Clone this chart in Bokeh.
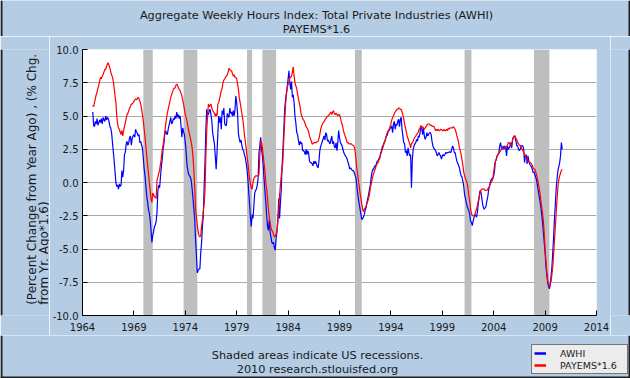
import numpy as np
from bokeh.plotting import figure
from bokeh.layouts import column, row
from bokeh.models import (FixedTicker, PrintfTickFormatter, BoxAnnotation, Label,
                          Legend, LegendItem, Range1d, Span)
from bokeh.embed import file_html
from bokeh.resources import INLINE

# ---------------- data (monthly, Jan 1965 .. Sep 2010) ----------------
START_YEAR = 1965

awhi = [
    5.3, 4.3, 4.2, 4.6, 4.4, 4.8, 4.3, 4.5, 4.7, 4.5, 4.8, 4.4,          # 1965
    4.9, 4.7, 4.6, 5.0, 4.7, 4.9, 4.8, 4.6, 4.2, 4.1, 3.7, 3.0,          # 1966
    2.3, 1.6, 0.8, 0.0, -0.3, -0.2, -0.5, -0.1, -0.3, -0.2, 0.9, 0.4,    # 1967
    0.9, 2.1, 2.3, 2.9, 3.1, 2.8, 3.0, 3.4, 3.5, 2.8, 3.3, 3.5,          # 1968
    3.6, 3.4, 4.0, 3.8, 3.7, 3.5, 3.6, 3.0, 3.1, 2.8, 2.6, 1.8,          # 1969
    1.0, 0.5, -0.3, -1.0, -1.5, -2.0, -2.3, -2.8, -3.6, -4.5, -4.0, -3.7,  # 1970
    -3.3, -3.2, -2.9, -2.2, -0.6, -0.2, -0.4, 0.4, 1.2, 1.7, 2.5, 2.9,   # 1971
    3.6, 3.9, 3.7, 3.6, 4.0, 4.3, 4.6, 4.9, 4.4, 4.5, 4.8, 4.7,          # 1972
    5.0, 4.8, 5.3, 4.9, 5.1, 4.8, 5.0, 4.3, 3.4, 4.1, 3.8, 3.6,          # 1973
    3.0, 2.3, 1.3, 0.9, 0.6, 0.5, 0.4, 0.1, -0.5, -1.2, -2.0, -2.8,      # 1974
    -4.3, -5.5, -6.8, -6.6, -6.5, -6.5, -5.3, -4.5, -3.3, -2.5, -0.3, 1.5,  # 1975
    4.0, 5.5, 5.2, 5.1, 5.4, 5.5, 5.1, 4.6, 3.7, 3.3, 2.9, 2.0,          # 1976
    1.0, 2.2, 3.7, 5.0, 4.5, 4.9, 4.0, 5.4, 5.1, 5.6, 4.4, 4.3,          # 1977
    4.3, 5.2, 5.0, 4.9, 5.6, 5.2, 5.3, 5.0, 5.4, 5.0, 5.5, 6.5,          # 1978
    6.0, 5.2, 3.7, 3.3, 3.0, 3.2, 2.8, 2.5, 2.4, 2.1, 1.9, 1.5,          # 1979
    1.0, 0.3, -0.7, -1.6, -2.6, -3.3, -2.4, -2.7, -1.8, -0.8, -0.6, -0.5,  # 1980
    -0.2, 0.3, 2.2, 2.8, 3.4, 2.5, 2.0, 1.2, 0.2, -0.7, -1.5, -2.5,      # 1981
    -3.3, -3.6, -2.8, -3.7, -4.1, -4.5, -4.6, -4.5, -4.9, -5.1, -4.2, -3.7,  # 1982
    -3.0, -1.2, -2.7, -1.6, -0.5, 1.3, 2.5, 4.0, 5.5, 6.2, 6.7, 7.2,     # 1983
    7.8, 8.4, 7.5, 7.0, 7.6, 6.4, 6.6, 6.0, 5.0, 4.5, 3.8, 3.6,          # 1984
    3.2, 2.8, 3.1, 2.9, 3.0, 2.4, 2.4, 2.3, 2.1, 2.5, 2.1, 2.4,          # 1985
    2.2, 1.6, 1.5, 1.5, 1.4, 1.25, 1.6, 1.4, 1.6, 1.4, 1.2, 1.1,         # 1986
    1.6, 2.4, 2.7, 2.9, 3.1, 3.3, 3.5, 3.2, 3.75, 3.6, 3.1, 3.2,         # 1987
    3.0, 2.9, 3.2, 3.5, 2.9, 3.1, 2.7, 2.6, 3.0, 2.4, 3.0, 3.9,          # 1988
    3.4, 3.0, 2.9, 2.75, 2.5, 2.25, 2.1, 2.0, 1.9, 1.75, 1.5, 1.3,       # 1989
    1.0, 1.1, 1.0, 0.9, 0.9, 0.8, 0.6, 0.4, -0.1, -0.7, -1.2, -1.6,      # 1990
    -2.0, -2.4, -2.8, -2.7, -2.6, -2.4, -2.1, -1.9, -1.5, -1.2, -0.9, -0.5,  # 1991
    -0.2, 0.4, 0.8, 1.0, 1.0, 1.25, 1.2, 1.4, 1.6, 1.6, 1.8, 1.9,        # 1992
    2.2, 2.4, 2.7, 2.8, 3.0, 3.1, 3.4, 3.5, 3.6, 3.9, 3.9, 4.1,          # 1993
    4.1, 4.25, 3.75, 4.4, 4.6, 4.0, 4.4, 4.3, 4.6, 4.75, 4.2, 4.75,      # 1994
    4.9, 4.0, 3.5, 3.0, 2.9, 2.25, 2.4, 2.0, 2.6, 2.25, 2.0, 2.1,        # 1995
    -0.4, 1.7, 2.5, 2.75, 2.9, 3.0, 3.25, 3.1, 3.5, 3.4, 3.75, 4.2,      # 1996
    4.1, 3.6, 4.1, 3.5, 3.25, 3.4, 3.75, 3.5, 3.6, 3.75, 3.75, 3.6,      # 1997
    3.1, 2.75, 2.6, 2.5, 2.4, 2.25, 2.0, 2.1, 2.25, 2.1, 2.0, 1.75,      # 1998
    2.0, 2.1, 2.0, 2.1, 2.25, 2.2, 2.25, 2.25, 2.3, 2.3, 2.25, 2.5,      # 1999
    2.75, 2.6, 2.25, 2.25, 1.9, 1.6, 1.45, 1.3, 1.1, 0.75, 0.5, 0.4,     # 2000
    0.1, -0.25, -0.9, -1.2, -1.5, -1.8, -1.95, -2.1, -2.4, -2.9, -3.0, -3.25,  # 2001
    -2.9, -2.6, -2.4, -2.5, -2.6, -2.2, -1.6, -1.1, -0.6, -0.7, -1.1, -1.6,  # 2002
    -1.9, -2.0, -1.9, -1.8, -1.4, -1.1, -0.6, -0.3, 0.0, 0.2, 0.3, 0.3,  # 2003
    0.5, 0.9, 1.6, 1.7, 2.0, 2.1, 2.2, 2.75, 3.0, 2.6, 2.5, 2.75,        # 2004
    2.5, 2.75, 2.6, 2.0, 2.75, 2.5, 2.6, 2.75, 3.0, 2.6, 3.2, 3.4,       # 2005
    3.5, 3.4, 3.1, 2.75, 2.75, 2.5, 2.4, 2.5, 2.75, 2.75, 2.75, 2.5,     # 2006
    1.5, 2.0, 2.1, 1.4, 2.0, 1.6, 1.4, 1.25, 1.2, 1.0, 0.75, 0.8,        # 2007
    0.6, 0.4, 0.2, -0.2, -0.6, -1.0, -1.4, -1.8, -2.4, -3.0, -3.8, -4.5,  # 2008
    -5.3, -6.3, -7.0, -7.5, -7.8, -8.0, -7.7, -7.0, -6.3, -5.2, -4.0, -2.6,  # 2009
    -1.6, -0.4, 0.3, 0.9, 1.2, 1.5, 2.0, 3.0, 2.5,                       # 2010
]

payems16 = [
    5.8, 5.7, 6.0, 6.3, 6.6, 6.8, 7.1, 7.3, 7.6, 7.9, 7.8, 8.0,          # 1965
    8.1, 8.3, 8.5, 8.5, 8.7, 8.9, 9.0, 8.8, 8.6, 8.3, 8.1, 7.9,          # 1966
    7.6, 7.1, 6.5, 6.0, 5.0, 4.4, 4.1, 4.0, 3.8, 3.6, 3.9, 3.5,          # 1967
    3.9, 4.2, 4.5, 4.8, 5.1, 5.2, 5.4, 5.6, 5.7, 5.9, 5.9, 6.0,          # 1968
    6.1, 6.2, 6.3, 6.2, 6.3, 6.4, 6.3, 6.1, 5.9, 5.5, 5.1, 4.6,          # 1969
    4.0, 3.4, 2.7, 2.0, 1.3, 0.7, 0.0, -0.6, -1.2, -1.5, -0.8, -0.9,     # 1970
    -1.1, -1.1, -1.2, 0.2, 0.4, 0.7, 0.9, 1.4, 1.8, 2.4, 2.8, 3.2,       # 1971
    3.8, 4.3, 4.8, 5.2, 5.5, 5.8, 6.1, 6.4, 6.6, 6.8, 7.0, 7.1,          # 1972
    7.1, 7.3, 7.4, 7.3, 7.1, 7.0, 6.9, 6.7, 6.5, 6.2, 5.9, 5.5,          # 1973
    5.1, 4.9, 4.6, 4.2, 3.9, 3.6, 3.3, 3.0, 2.6, 1.9, 0.9, -0.4,         # 1974
    -2.0, -2.6, -3.2, -3.7, -4.0, -4.1, -4.0, -3.3, -2.8, -2.2, -1.6, -0.6,  # 1975
    2.0, 3.9, 5.0, 5.9, 5.7, 5.8, 5.9, 5.6, 5.4, 5.3, 5.2, 5.0,          # 1976
    5.2, 5.0, 5.9, 6.0, 6.3, 6.6, 6.9, 7.1, 7.5, 7.7, 7.8, 7.9,          # 1977
    8.0, 8.1, 8.3, 8.6, 8.5, 8.4, 8.4, 8.2, 8.0, 8.1, 7.9, 7.9,          # 1978
    7.8, 7.4, 7.0, 6.4, 6.0, 5.6, 5.2, 4.8, 4.3, 3.6, 3.1, 2.6,          # 1979
    2.0, 1.5, 0.9, 0.3, -0.1, -0.4, -0.5, 0.0, 0.3, 0.4, 0.5, 0.5,       # 1980
    0.5, 0.5, 0.6, 2.0, 3.1, 3.0, 2.6, 2.0, 1.4, 0.8, 0.0, -0.5,         # 1981
    -1.2, -2.0, -2.6, -3.0, -3.4, -3.6, -3.7, -3.9, -4.1, -4.0, -3.9, -3.6,  # 1982
    -2.8, -2.0, -1.0, -0.2, 0.5, 1.0, 1.7, 3.3, 4.6, 5.8, 6.6, 7.1,      # 1983
    7.4, 7.6, 7.9, 7.9, 8.0, 8.3, 8.7, 8.0, 7.5, 7.25, 7.1, 6.7,         # 1984
    6.3, 6.0, 5.7, 5.2, 5.0, 4.8, 4.7, 4.6, 4.4, 4.2, 4.1, 4.0,          # 1985
    3.8, 3.5, 3.3, 3.1, 2.9, 2.9, 3.0, 3.0, 3.0, 3.0, 3.1, 3.1,          # 1986
    3.3, 3.6, 4.0, 4.2, 4.4, 4.5, 4.6, 4.7, 4.8, 4.9, 5.0, 5.0,          # 1987
    5.1, 5.2, 5.3, 5.1, 5.3, 5.4, 5.2, 5.1, 5.2, 5.1, 5.0, 5.1,          # 1988
    5.1, 4.9, 4.6, 4.4, 4.1, 3.8, 3.6, 3.4, 3.2, 3.0, 3.0, 2.9,          # 1989
    2.9, 2.9, 2.9, 2.8, 2.8, 2.7, 2.5, 1.9, 1.2, 0.7, 0.2, -0.3,         # 1990
    -0.8, -1.2, -1.6, -2.0, -2.2, -2.0, -1.9, -1.8, -1.6, -1.4, -1.2, -0.9,  # 1991
    -0.4, -0.1, 0.2, 0.5, 0.7, 0.9, 1.1, 1.3, 1.4, 1.5, 1.7, 1.8,        # 1992
    2.1, 2.3, 2.5, 2.7, 2.9, 3.1, 3.3, 3.6, 3.8, 3.9, 4.0, 4.2,          # 1993
    4.4, 4.7, 4.9, 5.0, 5.2, 5.3, 5.4, 5.5, 5.5, 5.6, 5.6, 5.5,          # 1994
    5.5, 5.3, 5.1, 4.8, 4.4, 4.1, 3.8, 3.5, 3.3, 3.1, 2.9, 2.6,          # 1995
    2.9, 3.0, 3.1, 3.3, 3.4, 3.5, 3.6, 3.7, 3.8, 4.0, 4.1, 4.3,          # 1996
    4.1, 4.2, 4.1, 4.0, 4.1, 4.2, 4.3, 4.4, 4.4, 4.4, 4.3, 4.3,          # 1997
    4.25, 4.2, 4.25, 4.1, 3.9, 4.0, 3.9, 4.0, 3.9, 3.9, 4.0, 4.0,        # 1998
    3.9, 3.9, 4.0, 3.9, 3.9, 4.0, 3.9, 4.1, 4.0, 4.1, 4.1, 4.1,          # 1999
    4.1, 4.2, 4.1, 4.0, 3.8, 3.5, 3.3, 3.0, 2.6, 2.4, 2.1, 1.7,          # 2000
    1.3, 0.8, 0.5, 0.3, 0.1, 0.0, -0.5, -1.0, -1.4, -2.0, -2.3, -2.5,    # 2001
    -2.5, -2.5, -2.4, -2.2, -2.0, -1.7, -1.4, -1.1, -0.8, -0.6, -0.5, -0.5,  # 2002
    -0.5, -0.5, -0.6, -0.6, -0.6, -0.5, -0.4, -0.3, -0.1, 0.0, 0.1, 0.3,  # 2003
    0.8, 1.3, 1.6, 1.8, 2.0, 2.1, 2.2, 2.3, 2.4, 2.5, 2.6, 2.6,          # 2004
    2.6, 2.6, 2.6, 2.7, 2.8, 3.0, 3.0, 2.9, 2.8, 2.8, 3.2, 3.4,          # 2005
    3.5, 3.5, 3.3, 3.2, 3.0, 2.9, 2.8, 2.8, 2.6, 2.5, 2.4, 2.3,          # 2006
    2.1, 2.0, 1.9, 1.8, 1.6, 1.6, 1.5, 1.5, 1.4, 1.3, 1.1, 1.0,          # 2007
    1.0, 0.8, 0.6, 0.3, 0.0, -0.4, -0.8, -1.3, -1.8, -2.3, -2.9, -3.8,   # 2008
    -5.0, -5.9, -6.7, -7.3, -7.7, -7.8, -7.6, -7.4, -6.9, -6.3, -5.3, -4.3,  # 2009
    -3.3, -2.2, -1.2, -0.3, 0.2, 0.5, 0.7, 0.9, 1.0,                     # 2010
]

# NBER recessions (peak month, trough month)
rec_peaks = ["1969-12", "1973-11", "1980-01", "1981-07", "1990-07", "2001-03", "2007-12"]
rec_troughs = ["1970-11", "1975-03", "1980-07", "1982-11", "1991-03", "2001-11", "2009-06"]

x_ticks = [1964, 1969, 1974, 1979, 1984, 1989, 1994, 1999, 2004, 2009, 2014]
y_ticks = [-10.0, -7.5, -5.0, -2.5, 0.0, 2.5, 5.0, 7.5, 10.0]

title_lines = ["Aggregate Weekly Hours Index: Total Private Industries (AWHI)", "PAYEMS*1.6"]
ylabel_lines = ["(Percent Change from Year Ago) , (% Chg.", "from Yr. Ago*1.6)"]
footer_lines = ["Shaded areas indicate US recessions.", "2010 research.stlouisfed.org"]
series_names = ["AWHI", "PAYEMS*1.6"]

# ---------------- styling / layout constants ----------------
FONT = "DejaVu Sans"
BG = "#B4CCE4"
TXT = "#1a1a1a"
EDGE = "#1e1e1e"
TOTAL_W = 630
TOP_H, MAIN_H, BOT_H = 36, 299, 43
LEFT_W, RIGHT_W = 49, 20
MAIN_W = TOTAL_W - LEFT_W - RIGHT_W


def ym(s):
    y, m = s.split("-")
    return int(y) + (int(m) - 1) / 12.0


def strip(w, h):
    f = figure(width=w, height=h, x_range=Range1d(0, w), y_range=Range1d(0, h),
               x_axis_type=None, y_axis_type=None, output_backend="svg",
               toolbar_location=None, min_border=0)
    f.background_fill_color = BG
    f.border_fill_color = BG
    f.outline_line_color = None
    f.xgrid.visible = False
    f.ygrid.visible = False
    return f


def edge(f, loc, dim):
    f.add_layout(Span(location=loc, dimension=dim, line_color=EDGE, line_width=2))


# ---------------- main plot ----------------
t_awhi = START_YEAR + np.arange(len(awhi)) / 12.0
t_pay = START_YEAR + np.arange(len(payems16)) / 12.0

p = figure(width=MAIN_W, height=MAIN_H,
           x_range=Range1d(x_ticks[0], x_ticks[-1]),
           y_range=Range1d(y_ticks[0], y_ticks[-1]),
           output_backend="svg", toolbar_location=None,
           min_border_left=31, min_border_right=14,
           min_border_top=13, min_border_bottom=20)
p.border_fill_color = BG
p.background_fill_color = "white"
p.outline_line_color = None

for ax in (p.xaxis[0], p.yaxis[0]):
    ax.axis_line_color = "black"
    ax.axis_line_width = 1
    ax.major_tick_line_color = "black"
    ax.major_tick_in = 5
    ax.major_tick_out = 0
    ax.minor_tick_line_color = None
    ax.major_label_text_font = FONT
    ax.major_label_text_font_size = "10px"
    ax.major_label_text_color = TXT

p.xaxis.ticker = FixedTicker(ticks=x_ticks)
p.xaxis.major_label_standoff = 7
p.yaxis.ticker = FixedTicker(ticks=y_ticks)
p.yaxis.formatter = PrintfTickFormatter(format="%.1f")
p.yaxis.major_label_standoff = 4

p.xgrid.visible = False
p.ygrid.grid_line_color = "#AAAAAA"
p.ygrid.grid_line_width = 1

for a, b in zip(rec_peaks, rec_troughs):
    p.add_layout(BoxAnnotation(left=ym(a), right=ym(b), fill_color="#BEBEBE",
                               fill_alpha=1.0, line_color=None, level="underlay"))

p.line(t_awhi, awhi, line_color="#0000FF", line_width=1.2)
p.line(t_pay, payems16, line_color="#FF0000", line_width=1.2)

# ---------------- title strip ----------------
top = strip(TOTAL_W, TOP_H)
for txt, yy in zip(title_lines, [TOP_H - 15, TOP_H - 28.5]):
    top.add_layout(Label(x=316, y=yy, text=txt, text_align="center",
                         text_baseline="middle", text_font=FONT,
                         text_font_size="11.3px", text_color=TXT))
edge(top, 1, "height")
edge(top, TOTAL_W - 1, "height")

# ---------------- y-label strip ----------------
left = strip(LEFT_W, MAIN_H)
for txt, xx in zip(ylabel_lines, [31.7, 43.0]):
    left.add_layout(Label(x=xx, y=12, text=txt, angle=90, angle_units="deg",
                          text_align="left", text_baseline="middle",
                          text_font=FONT, text_font_size="12px", text_color=TXT))
edge(left, 1, "height")

right = strip(RIGHT_W, MAIN_H)
edge(right, RIGHT_W - 1, "height")

# ---------------- footer strip with legend ----------------
bot = strip(TOTAL_W, BOT_H)
for txt, yy in zip(footer_lines, [BOT_H - 20, BOT_H - 34]):
    bot.add_layout(Label(x=317, y=yy, text=txt, text_align="center",
                         text_baseline="middle", text_font=FONT,
                         text_font_size="11.3px", text_color=TXT))
edge(bot, 1, "height")
edge(bot, TOTAL_W - 1, "height")
edge(bot, 1, "width")

# legend swatches: renderers whose data lie outside the strip's visible range
lb = bot.line([-30, -20], [5, 5], line_color="#0000FF", line_width=2.5)
lr = bot.line([-30, -20], [5, 5], line_color="#FF0000", line_width=2.5)
legend = Legend(items=[LegendItem(label=series_names[0], renderers=[lb]),
                       LegendItem(label=series_names[1], renderers=[lr])],
                location=(531, 4), orientation="vertical",
                background_fill_color="#ECECEC", background_fill_alpha=1.0,
                border_line_color="black", border_line_width=1,
                label_text_font=FONT, label_text_font_size="9.5px",
                label_text_line_height=1.0, label_text_color=TXT,
                glyph_width=12, glyph_height=12, label_height=12, label_width=65,
                label_standoff=14, padding=2, spacing=0, margin=0)
bot.add_layout(legend)

layout = column(top, row(left, p, right), bot)

open("out.html", "w").write(file_html(layout, INLINE))
